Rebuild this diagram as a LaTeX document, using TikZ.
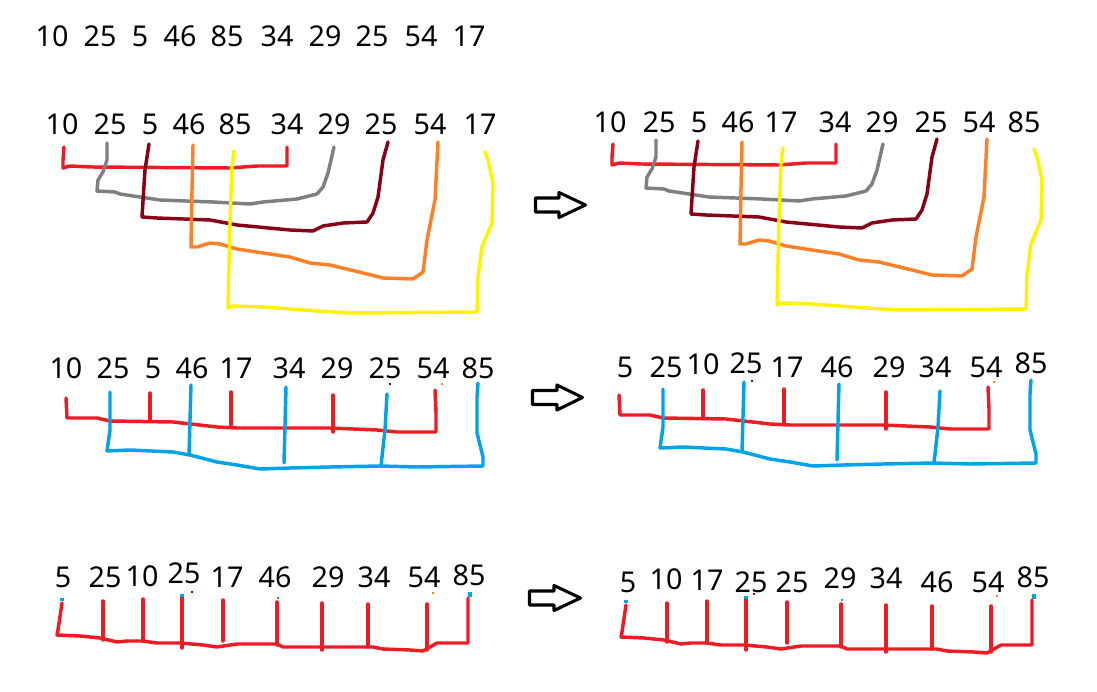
\documentclass[tikz,border=0pt]{standalone}
\usepackage{fontspec}
\setmainfont{Noto Sans}
\definecolor{pred}{HTML}{ED1C24}
\definecolor{pgray}{HTML}{7F7F7F}
\definecolor{pdred}{HTML}{880015}
\definecolor{porange}{HTML}{FF7F27}
\definecolor{pyellow}{HTML}{FFF200}
\definecolor{pblue}{HTML}{00A2E8}
\newcommand\RowTwoCurves{%
  \draw[ln,pred] (64,147)--(63,160)--(63,168)--(70,166)--(92,167)--(230,168)--(257,166)--(287,166)--(287,147);
  \draw[ln,pgray] (107,143)--(107,160)--(103,172)--(98,180)--(97,191)--(115,192)--(120,194)--(140,197)--(160,200)--(213,202)--(250,204)--(263,202)--(297,199)--(317,194)--(323,187)--(328,173)--(334,147);
  \draw[ln,pdred] (149,144)--(145,170)--(142,217)--(157,218)--(210,220)--(237,225)--(290,230)--(313,231)--(323,226)--(343,223)--(367,222)--(373,213)--(378,197)--(383,160)--(388,142);
  \draw[ln,porange] (193,145)--(192,190)--(191,247)--(197,247)--(210,243)--(220,244)--(237,249)--(263,253)--(290,257)--(310,263)--(330,265)--(363,273)--(383,278)--(413,279)--(423,272)--(427,240)--(435,200)--(438,142);
  \draw[ln,pyellow] (234,151)--(232,167)--(230,223)--(228,308)--(233,306)--(263,307)--(317,311)--(350,313)--(477,312)--(478,277)--(482,247)--(492,223)--(493,183)--(488,160)--(485,152);
}
\newcommand\RowThreeCurves{%
  \draw[ln,pred] (66,398)--(67,418)--(97,418)--(110,421)--(173,422)--(217,427)--(237,428)--(330,428)--(377,430)--(397,432)--(436,432)--(436,412)--(435,390);
  \draw[ln,pred] (150,393)--(150,420);
  \draw[ln,pred] (231,392)--(231,427);
  \draw[ln,pred] (333,395)--(333,432);
  \draw[ln,pblue] (110,392)--(110,430)--(107,451)--(130,450)--(173,452)--(190,455)--(217,462)--(237,465)--(260,469)--(290,468)--(330,467)--(380,466)--(417,467)--(483,466)--(483,457)--(477,433)--(477,397)--(478,383);
  \draw[ln,pblue] (191,385)--(189,455);
  \draw[ln,pblue] (286,387)--(284,463);
  \draw[ln,pblue] (387,394)--(385,430)--(381,466);
}
\newcommand\RowFourCurves{%
  \draw[ln,pred] (62,603)--(58,630)--(57,635)--(80,636)--(100,638)--(117,642)--(127,641)--(143,641)--(157,643)--(180,643)--(203,645)--(217,647)--(237,644)--(277,644)--(283,647)--(323,647)--(373,647)--(383,649)--(410,650)--(423,651)--(430,647)--(437,643)--(468,643)--(468,598);
  \draw[ln,pred] (103,601)--(103,640);
  \draw[ln,pred] (143,599)--(143,641);
  \draw[ln,pred] (182,597)--(182,648);
  \draw[ln,pred] (223,600)--(223,641);
  \draw[ln,pred] (277,602)--(277,645);
  \draw[ln,pred] (322,603)--(322,650);
  \draw[ln,pred] (368,604)--(368,647);
  \draw[ln,pred] (427,604)--(427,650);
  \draw[ln,pblue,line cap=butt] (62,598)--(62,601);
  \draw[ln,pblue,line cap=butt] (182,594)--(182,597);
  \draw[ln,pblue,line cap=butt] (470,592)--(470,597);
}
\newcommand\FatArrow[4]{%
  \draw[line width=2.3pt,line join=round,black,fill=white]
    (#1,#4-7)--(#2,#4-7)--(#2,#4-12.5)--(#3,#4)--(#2,#4+12.5)--(#2,#4+7)--(#1,#4+7)--cycle;
}
\begin{document}
\begin{tikzpicture}[x=0.75pt,y=-0.75pt,
  num/.style={inner sep=0pt,font=\fontsize{21.5}{22}\selectfont},
  ln/.style={line width=2.6pt,line join=round,line cap=round},
  speck/.style={line width=1.5pt}]
\useasboundingbox[fill=white] (0,0) rectangle (1097,692);
% row 1
\foreach \x/\y/\t [count=\i] in {52/36/10,100/36/25,140/36/5,180/36/46,227/36/85,277/36/34,325/36/29,372/36/25,421/36/54,469/36/17}
  \node[num] (ta\i) at (\x,\y) {\t};
% row 2
\foreach \x/\y/\t [count=\i] in {62/124/10,110/124/25,150/124/5,189/124/46,235/124/85,287/124/34,334/124/29,381/124/25,430/124/54,480/124/17}
  \node[num] (tb\i) at (\x,\y) {\t};
\foreach \x/\y/\t [count=\i] in {610/122/10,659/122/25,699/122/5,738/122/46,781/122/17,835/122/34,882/122/29,931/122/25,979/122/54,1024/122/85}
  \node[num] (tc\i) at (\x,\y) {\t};
\RowTwoCurves
\begin{scope}[shift={(549,-3)}]\RowTwoCurves\end{scope}
% row 3
\foreach \x/\y/\t [count=\i] in {66/368/10,113/368/25,153/368/5,192/368/46,236/368/17,289/368/34,337/368/29,385/368/25,433/368/54,478/368/85}
  \node[num] (td\i) at (\x,\y) {\t};
\foreach \x/\y/\t [count=\i] in {625/367/5,666/367/25,703/364/10,746/363/25,787/367/17,837/367/46,889/367/29,935/367/34,986/367/54,1031/363/85}
  \node[num] (te\i) at (\x,\y) {\t};
\RowThreeCurves
\begin{scope}[shift={(553,-3)}]\RowThreeCurves\end{scope}
\draw[speck,pdred] (389,384)--(391,384);
\draw[speck,porange] (441,384)--(443,384);
\draw[speck,pdred] (751,381)--(753,381);
\draw[speck,porange] (993,382)--(995,382);
% row 4
\foreach \x/\y/\t [count=\i] in {63/577/5,105/577/25,142/576/10,184/573/25,227/577/17,275/577/46,328/577/29,374/577/34,424/577/54,469/575/85}
  \node[num] (tf\i) at (\x,\y) {\t};
\foreach \x/\y/\t [count=\i] in {628/582/5,666/579/10,707/580/17,751/582/25,792/582/25,840/578/29,886/578/34,937/582/46,988/582/54,1033/577/85}
  \node[num] (tg\i) at (\x,\y) {\t};
\RowFourCurves
\begin{scope}[shift={(564,2)}]\RowFourCurves\end{scope}
\draw[speck,pdred] (191,592)--(193,592);
\draw[speck,porange] (432,593)--(434,593);
\draw[speck,pblue] (277,598)--(279,598);
\draw[speck,pdred] (753,594)--(755,594);
\draw[speck,porange] (996,596)--(998,596);
\draw[speck,pblue] (841,600)--(843,600);
% arrows
\FatArrow{535.5}{559}{585.5}{205}
\FatArrow{532.5}{557}{582.5}{397.5}
\FatArrow{529.5}{554}{580.5}{598}
\end{tikzpicture}
\end{document}
